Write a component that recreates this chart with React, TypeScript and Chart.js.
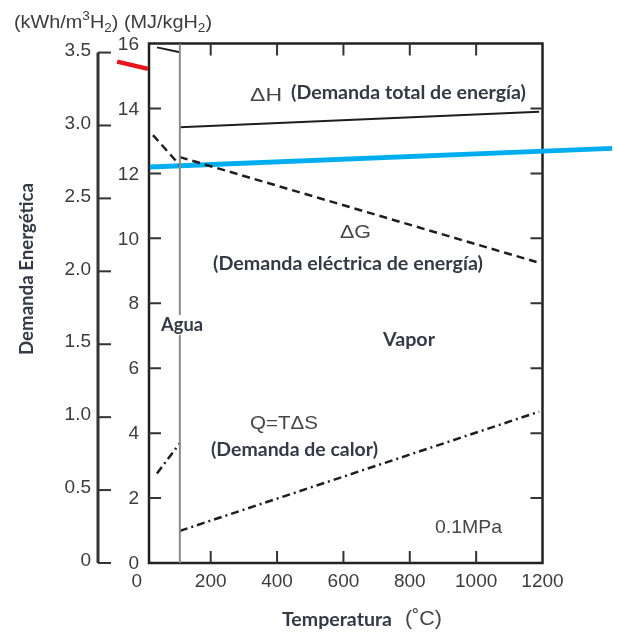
import React, { useEffect, useRef } from "react";
import { Chart, registerables } from "chart.js";
Chart.register(...registerables);

// ---- data (x: temperature °C, y: MJ/kgH2) ----
const dHWaterT = [38, 107];
const dHWaterV = [15.88, 15.73];
const dHVaporT = [107, 1190];
const dHVaporV = [13.42, 13.9];
const dGWaterT = [26, 107];
const dGWaterV = [13.18, 12.25];
const dGVaporT = [107, 1182];
const dGVaporV = [12.5, 9.27];
const qWaterT = [38, 107];
const qWaterV = [2.76, 3.69];
const qVaporT = [107, 1190];
const qVaporV = [0.99, 4.66];
const phaseT = [107, 107];
const phaseV = [0, 16];
const redT = [-82, 11];
const redV = [15.44, 15.22];
const blueT = [17, 1410];
const blueV = [12.2, 12.77];

const xTicks = [0, 200, 400, 600, 800, 1000, 1200];
const mjTicks = [0, 2, 4, 6, 8, 10, 12, 14, 16];
const kwhTicks = [0, 0.5, 1.0, 1.5, 2.0, 2.5, 3.0, 3.5];
const kwhLabels = ["0", "0.5", "1.0", "1.5", "2.0", "2.5", "3.0", "3.5"];

const X_MIN = 14;
const X_MAX = 1200;
const MJ_MAX = 16;
const KWH_MAX = 3.562;

const pts = (xs: number[], ys: number[]) => xs.map((x, i) => ({ x, y: ys[i] }));

const SANS = "'Liberation Sans', Arial, sans-serif";
const BOLD = "bold 18px Lato, 'Open Sans', sans-serif";

function fitText(ctx: CanvasRenderingContext2D, text: string, left: number, right: number, cy: number, font: string, color: string, bg?: boolean) {
  ctx.save();
  ctx.font = font;
  ctx.textAlign = "left";
  ctx.textBaseline = "middle";
  const w = ctx.measureText(text).width;
  const sx = (right - left) / w;
  ctx.translate(left, cy);
  ctx.scale(sx, 1);
  if (bg) {
    ctx.fillStyle = "#fff";
    ctx.fillRect(-2, -10, w + 4, 20);
  }
  ctx.fillStyle = color;
  ctx.fillText(text, 0, 0);
  ctx.restore();
}

const framePlugin = {
  id: "framePlugin",
  beforeDatasetsDraw(chart: any) {
    const ctx: CanvasRenderingContext2D = chart.ctx;
    const { left, right, top, bottom } = chart.chartArea;
    const xs = chart.scales.x;
    const ys = chart.scales.y;
    const yk = chart.scales.yk;
    ctx.save();
    ctx.strokeStyle = "#222";
    ctx.lineWidth = 2.5;
    ctx.strokeRect(left, top, right - left, bottom - top);
    ctx.lineWidth = 2;
    ctx.strokeStyle = "#333";
    xTicks.forEach((v) => {
      if (v <= X_MIN || v >= X_MAX) return;
      const px = xs.getPixelForValue(v);
      ctx.beginPath();
      ctx.moveTo(px, bottom);
      ctx.lineTo(px, bottom - 12);
      ctx.moveTo(px, top);
      ctx.lineTo(px, top + 12);
      ctx.stroke();
    });
    mjTicks.forEach((v) => {
      if (v <= 0 || v >= MJ_MAX) return;
      const py = ys.getPixelForValue(v);
      ctx.beginPath();
      ctx.moveTo(left, py);
      ctx.lineTo(left + 12, py);
      ctx.moveTo(right, py);
      ctx.lineTo(right - 12, py);
      ctx.stroke();
    });
    const ax = left - 51;
    ctx.strokeStyle = "#333";
    ctx.lineWidth = 3;
    ctx.beginPath();
    ctx.moveTo(ax, yk.getPixelForValue(0));
    ctx.lineTo(ax, yk.getPixelForValue(kwhTicks[kwhTicks.length - 1]));
    ctx.stroke();
    ctx.lineWidth = 2;
    kwhTicks.forEach((v) => {
      const py = yk.getPixelForValue(v);
      ctx.beginPath();
      ctx.moveTo(ax, py);
      ctx.lineTo(ax + 13, py);
      ctx.stroke();
    });
    ctx.restore();
  },
  afterDraw(chart: any) {
    const ctx: CanvasRenderingContext2D = chart.ctx;
    const { left, bottom } = chart.chartArea;
    const xs = chart.scales.x;
    const ys = chart.scales.y;
    const yk = chart.scales.yk;
    ctx.save();
    ctx.fillStyle = "#3c3c3c";
    ctx.font = "19px " + SANS;
    ctx.textBaseline = "middle";
    ctx.textAlign = "center";
    xTicks.forEach((v) => {
      const px = xs.getPixelForValue(v) - (v === 0 ? 7.5 : 0);
      ctx.fillText(String(v), px, bottom + 19);
    });
    ctx.textAlign = "right";
    mjTicks.forEach((v) => {
      ctx.fillText(String(v), left - 10, ys.getPixelForValue(v) + 1);
    });
    kwhTicks.forEach((v, i) => {
      ctx.fillText(kwhLabels[i], left - 58, yk.getPixelForValue(v) - 2);
    });
    ctx.restore();

    const runs = [
      { t: "(kWh/m", k: 0 },
      { t: "3", k: 1 },
      { t: "H", k: 0 },
      { t: "2", k: -1 },
      { t: ") (MJ/kgH", k: 0 },
      { t: "2", k: -1 },
      { t: ")", k: 0 },
    ];
    ctx.save();
    ctx.fillStyle = "#3c3c3c";
    ctx.textBaseline = "alphabetic";
    ctx.textAlign = "left";
    const big = "19px " + SANS;
    const small = "13px " + SANS;
    let total = 0;
    runs.forEach((r) => {
      ctx.font = r.k === 0 ? big : small;
      total += ctx.measureText(r.t).width;
    });
    const sx = (212 - 14) / total;
    ctx.translate(14, 28);
    ctx.scale(sx, 1);
    let cx = 0;
    runs.forEach((r) => {
      ctx.font = r.k === 0 ? big : small;
      const dy = r.k === 1 ? -8 : r.k === -1 ? 4 : 0;
      ctx.fillText(r.t, cx, dy);
      cx += ctx.measureText(r.t).width;
    });
    ctx.restore();

    const dark = "#333a44";
    const gray = "#464646";
    fitText(ctx, "ΔH", 250, 282, 96, "19px " + SANS, gray);
    fitText(ctx, "(Demanda total de energía)", 291, 526, 93, BOLD, dark);
    fitText(ctx, "ΔG", 340, 371, 233, "19px " + SANS, gray);
    fitText(ctx, "(Demanda eléctrica de energía)", 213, 483, 264, BOLD, dark);
    fitText(ctx, "Agua", 161, 203, 325, BOLD, dark, true);
    fitText(ctx, "Vapor", 383, 435, 340, BOLD, dark);
    fitText(ctx, "Q=TΔS", 250, 318, 424, "19px " + SANS, gray);
    fitText(ctx, "(Demanda de calor)", 211, 378, 450, BOLD, dark);
    fitText(ctx, "0.1MPa", 435, 502, 528, "19px " + SANS, gray);
    fitText(ctx, "Temperatura", 282, 392, 620, BOLD, dark);
    fitText(ctx, "(˚C)", 405, 442, 619, "21px " + SANS, gray);

    ctx.save();
    ctx.translate(27, 269);
    ctx.rotate(-Math.PI / 2);
    fitText(ctx, "Demanda Energética", -86, 86, 0, BOLD, dark);
    ctx.restore();
  },
};

export default function App() {
  const ref = useRef<HTMLCanvasElement | null>(null);
  useEffect(() => {
    if (!ref.current) return;
    const black = "#1e1e1e";
    const line = (label: string, xs: number[], ys: number[], extra: any) => ({
      label,
      data: pts(xs, ys),
      borderColor: black,
      borderWidth: 2,
      pointRadius: 0,
      fill: false,
      tension: 0,
      yAxisID: "y",
      ...extra,
    });
    const chart = new Chart(ref.current, {
      type: "line",
      data: {
        datasets: [
          line("Fase", phaseT, phaseV, { borderColor: "#8a8a8a", borderWidth: 2 }),
          line("ΔH agua", dHWaterT, dHWaterV, {}),
          line("ΔH vapor", dHVaporT, dHVaporV, {}),
          line("ΔG agua", dGWaterT, dGWaterV, { borderDash: [8, 5], borderWidth: 2.5 }),
          line("ΔG vapor", dGVaporT, dGVaporV, { borderDash: [8, 5], borderWidth: 2.5 }),
          line("Q agua", qWaterT, qWaterV, { borderDash: [8, 4, 2, 4], borderWidth: 2.5 }),
          line("Q vapor", qVaporT, qVaporV, { borderDash: [8, 4, 2, 4], borderWidth: 2.5 }),
          line("Rojo", redT, redV, { borderColor: "#e8141b", borderWidth: 4.5, clip: false }),
          line("Azul", blueT, blueV, { borderColor: "#00aeef", borderWidth: 5, clip: false }),
        ],
      },
      options: {
        responsive: false,
        animation: false,
        layout: { padding: { left: 149, right: 75.5, top: 43.5, bottom: 69 } },
        plugins: { legend: { display: false }, tooltip: { enabled: false } },
        scales: {
          x: { type: "linear", min: X_MIN, max: X_MAX, display: false },
          y: { type: "linear", min: 0, max: MJ_MAX, display: false },
          yk: { type: "linear", min: 0, max: KWH_MAX, display: false, position: "left" },
        },
      },
      plugins: [framePlugin],
    });
    return () => chart.destroy();
  }, []);
  return (
    <div style={{ position: "fixed", left: 0, top: 0, width: 618, height: 632, background: "#fff" }}>
      <canvas ref={ref} width={618} height={632} />
    </div>
  );
}
